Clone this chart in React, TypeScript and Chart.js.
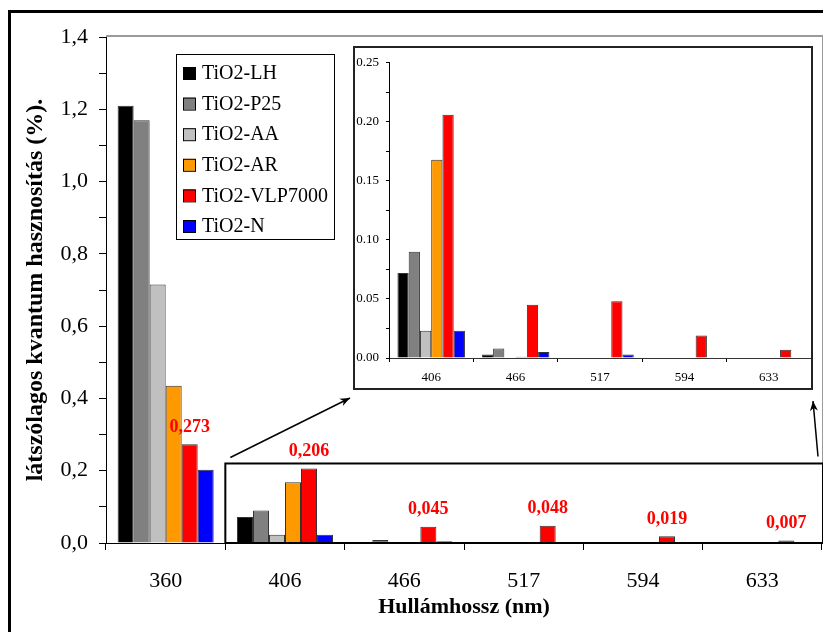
import React, { useEffect, useRef } from 'react';
import { Chart, registerables } from 'chart.js';

Chart.register(...registerables);

// ---------- data ----------
const categories = ['360', '406', '466', '517', '594', '633'];
const seriesNames = ['TiO2-LH', 'TiO2-P25', 'TiO2-AA', 'TiO2-AR', 'TiO2-VLP7000', 'TiO2-N'];
const seriesColors = ['#000000', '#808080', '#c0c0c0', '#ff9900', '#ff0000', '#0000ff'];
const lhValues = [1.21, 0.072, 0.003, 0, 0, 0];
const p25Values = [1.17, 0.09, 0.008, 0, 0, 0];
const aaValues = [0.715, 0.023, 0, 0, 0, 0];
const arValues = [0.435, 0.168, 0.001, 0, 0, 0];
const vlpValues = [0.273, 0.206, 0.045, 0.048, 0.019, 0.007];
const nValues = [0.203, 0.023, 0.005, 0.003, 0, 0];
const allSeries = [lhValues, p25Values, aaValues, arValues, vlpValues, nValues];
const labelledSeries = 4; // TiO2-VLP7000 values are written above bars

const mainYMax = 1.4;
const mainYStep = 0.1;
const insetYMax = 0.25;
const insetYStep = 0.025;
const zoomBoxMax = 0.22; // value height of the framed zoom region

const yTitle = 'látszólagos kvantum hasznosítás (%).';
const xTitle = 'Hullámhossz (nm)';

// ---------- layout constants ----------
const W = 823;
const H = 624;
const INSET = { left: 345, top: 38, width: 460, height: 344 };
const SERIF = "'Liberation Serif', 'Times New Roman', serif";

function arrow(ctx: CanvasRenderingContext2D, x1: number, y1: number, x2: number, y2: number) {
  ctx.beginPath();
  ctx.moveTo(x1, y1);
  ctx.lineTo(x2, y2);
  ctx.lineWidth = 1.5;
  ctx.stroke();
  const a = Math.atan2(y2 - y1, x2 - x1);
  const L = 10;
  const Wd = 4;
  ctx.beginPath();
  ctx.moveTo(x2, y2);
  ctx.lineTo(x2 - L * Math.cos(a) + Wd * Math.sin(a), y2 - L * Math.sin(a) - Wd * Math.cos(a));
  ctx.lineTo(x2 - L * 0.7 * Math.cos(a), y2 - L * 0.7 * Math.sin(a));
  ctx.lineTo(x2 - L * Math.cos(a) - Wd * Math.sin(a), y2 - L * Math.sin(a) + Wd * Math.cos(a));
  ctx.closePath();
  ctx.fill();
}

const overlayPlugin = {
  id: 'overlay',
  afterDatasetsDraw(chart: any) {
    const { ctx, chartArea, scales } = chart;
    const x = scales.x;
    const y = scales.y;
    ctx.save();
    // plot area frame (top & right)
    ctx.strokeStyle = '#9a9a9a';
    ctx.lineWidth = 2;
    ctx.beginPath();
    ctx.moveTo(chartArea.left, chartArea.top - 1);
    ctx.lineTo(chartArea.right + 1, chartArea.top - 1);
    ctx.lineTo(chartArea.right + 1, chartArea.bottom);
    ctx.stroke();

    // zoom frame
    const half = (x.getPixelForValue(1) - x.getPixelForValue(0)) / 2;
    const rl = x.getPixelForValue(1) - half;
    const rr = chartArea.right + 1;
    const rt = y.getPixelForValue(zoomBoxMax);
    const rb = y.getPixelForValue(0);
    ctx.strokeStyle = '#000';
    ctx.lineWidth = 2;
    ctx.strokeRect(rl, rt, rr - rl, rb - rt);

    // value labels
    const meta = chart.getDatasetMeta(labelledSeries);
    ctx.fillStyle = '#ff0000';
    ctx.font = `bold 18px ${SERIF}`;
    ctx.textAlign = 'center';
    ctx.textBaseline = 'middle';
    meta.data.forEach((bar: any, i: number) => {
      const v = allSeries[labelledSeries][i];
      ctx.fillText(v.toFixed(3).replace('.', ','), bar.x, bar.y - 17);
    });

    // arrows
    ctx.strokeStyle = '#000';
    ctx.fillStyle = '#000';
    arrow(ctx, rl + 5, rt - 6, INSET.left - 3, INSET.top + INSET.height + 8);
    arrow(ctx, rr - 5, rt - 7, INSET.left + INSET.width, INSET.top + INSET.height + 11);

    // legend
    const lx = 168;
    const ly = 46;
    ctx.fillStyle = '#fff';
    ctx.fillRect(lx, ly, 158, 185);
    ctx.strokeStyle = '#000';
    ctx.lineWidth = 1;
    ctx.strokeRect(lx + 0.5, ly + 0.5, 158, 185);
    ctx.font = `20px ${SERIF}`;
    ctx.textAlign = 'left';
    ctx.textBaseline = 'middle';
    chart.data.datasets.forEach((ds: any, i: number) => {
      const cy = ly + 19 + i * 30.6;
      ctx.fillStyle = ds.backgroundColor;
      ctx.fillRect(lx + 7, cy - 6, 12, 12);
      ctx.strokeStyle = '#000';
      ctx.strokeRect(lx + 7.5, cy - 5.5, 12, 12);
      ctx.fillStyle = '#000';
      ctx.fillText(ds.label, lx + 26, cy + 1);
    });
    ctx.restore();
  },
};

function makeDatasets(slice: number, catPct: number) {
  return seriesNames.map((name, i) => ({
    label: name,
    data: allSeries[i].slice(slice),
    backgroundColor: seriesColors[i],
    borderColor: '#333333',
    borderWidth: 1,
    borderSkipped: 'bottom' as const,
    categoryPercentage: catPct,
    barPercentage: 1,
  }));
}

export default function App() {
  const mainRef = useRef<HTMLCanvasElement>(null);
  const insetRef = useRef<HTMLCanvasElement>(null);

  useEffect(() => {
    Chart.defaults.font.family = SERIF;
    const main = new Chart(mainRef.current!, {
      type: 'bar',
      data: { labels: categories, datasets: makeDatasets(0, 0.805) },
      options: {
        responsive: false,
        animation: false,
        layout: { padding: { left: 0, top: 29, right: 9, bottom: 0 } },
        plugins: { legend: { display: false }, tooltip: { enabled: false } },
        scales: {
          x: {
            afterFit: (s: any) => { s.height = 89; },
            grid: { drawOnChartArea: false, drawTicks: true, tickLength: 7, color: '#000', offset: true },
            border: { display: true, color: '#000', width: 1 },
            ticks: { color: '#000', font: { size: 22, family: SERIF }, padding: 18, maxRotation: 0 },
            title: {
              display: true,
              text: xTitle,
              color: '#000',
              font: { size: 22, weight: 'bold', family: SERIF },
              padding: { top: 0, bottom: 11 },
            },
          },
          y: {
            min: 0,
            max: mainYMax,
            afterFit: (s: any) => { s.width = 98; },
            grid: { drawOnChartArea: false, drawTicks: true, tickLength: 7, color: '#000' },
            border: { display: true, color: '#000', width: 1 },
            ticks: {
              stepSize: mainYStep,
              color: '#000',
              font: { size: 22, family: SERIF },
              padding: 11,
              autoSkip: false,
              callback: (v: any) => (Math.round(Number(v) * 10) % 2 === 0 ? Number(v).toFixed(1).replace('.', ',') : ''),
            },
            title: {
              display: true,
              text: yTitle,
              color: '#000',
              font: { size: 24, weight: 'bold', family: SERIF },
              padding: { top: 13, bottom: 0 },
            },
          },
        },
      },
      plugins: [overlayPlugin],
    });

    const inset = new Chart(insetRef.current!, {
      type: 'bar',
      data: { labels: categories.slice(1), datasets: makeDatasets(1, 0.8) },
      options: {
        responsive: false,
        animation: false,
        layout: { padding: { left: 0, top: 10, right: 0, bottom: 0 } },
        plugins: { legend: { display: false }, tooltip: { enabled: false } },
        scales: {
          x: {
            afterFit: (s: any) => { s.height = 30; },
            grid: { drawOnChartArea: false, drawTicks: true, tickLength: 4, color: '#000', offset: true },
            border: { display: true, color: '#333', width: 1 },
            ticks: { color: '#000', font: { size: 13, family: SERIF }, padding: 8, maxRotation: 0 },
          },
          y: {
            min: 0,
            max: insetYMax,
            afterFit: (s: any) => { s.width = 34; },
            grid: { drawOnChartArea: false, drawTicks: true, tickLength: 3, color: '#000' },
            border: { display: true, color: '#000', width: 1 },
            ticks: {
              stepSize: insetYStep,
              color: '#000',
              font: { size: 13, family: SERIF },
              padding: 7,
              autoSkip: false,
              callback: (v: any) => (Math.round(Number(v) * 40) % 2 === 0 ? Number(v).toFixed(2) : ''),
            },
          },
        },
      },
    });

    return () => {
      main.destroy();
      inset.destroy();
    };
  }, []);

  return (
    <div style={{ position: 'relative', width: W, height: H, background: '#fff' }}>
      <canvas ref={mainRef} width={W} height={H} style={{ position: 'absolute', left: 0, top: 0 }} />
      <div style={{ position: 'absolute', left: 0, top: 2, width: W, height: 3, background: '#000' }} />
      <div style={{ position: 'absolute', left: 0, top: 2, width: 3, height: H - 2, background: '#000' }} />
      <div
        style={{
          position: 'absolute',
          left: INSET.left,
          top: INSET.top,
          width: INSET.width,
          height: INSET.height,
          boxSizing: 'border-box',
          border: '2px solid #222',
          background: '#fff',
        }}
      >
        <canvas ref={insetRef} width={INSET.width - 4} height={INSET.height - 4} style={{ display: 'block' }} />
      </div>
    </div>
  );
}
